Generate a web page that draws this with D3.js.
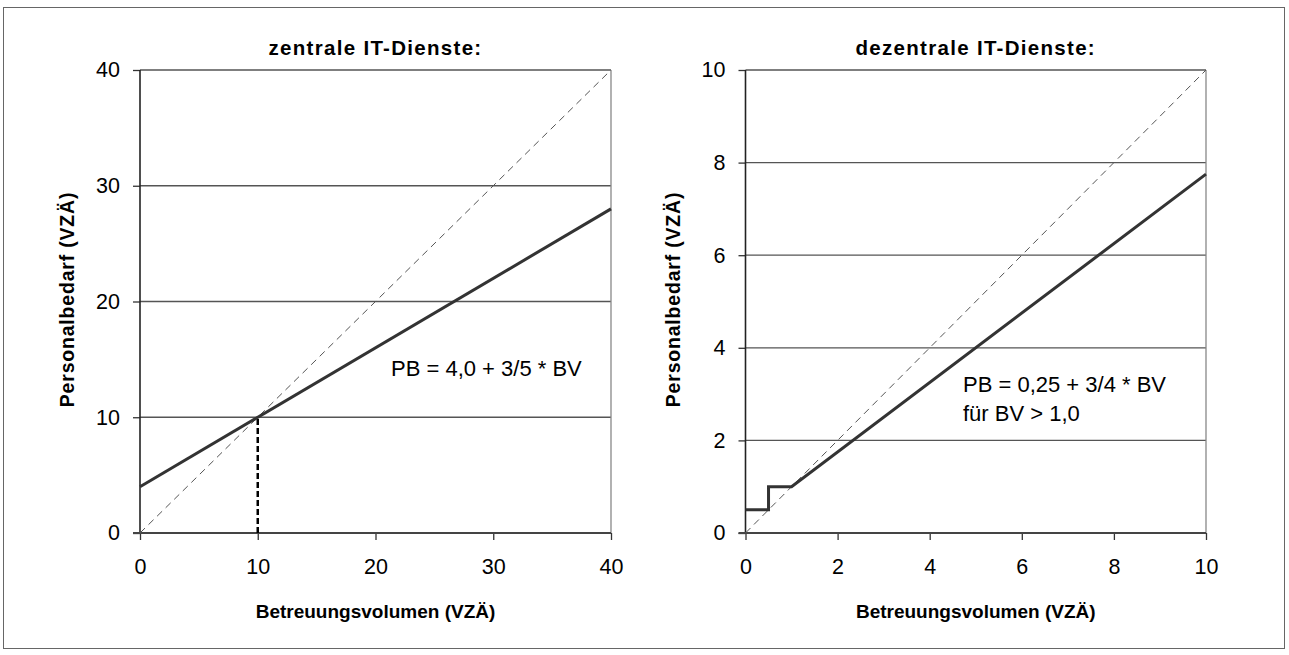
<!DOCTYPE html>
<html><head><meta charset="utf-8">
<script src="https://cdn.jsdelivr.net/npm/d3@7"></script>
<style>body{margin:0;background:#fff}svg{display:block;font-family:"Liberation Sans",Arial,sans-serif}</style>
</head><body><svg id="c" width="1289" height="655"></svg>
<script>
// Data
const leftTitle = "zentrale IT-Dienste:";
const rightTitle = "dezentrale IT-Dienste:";
const xTitle = "Betreuungsvolumen (VZÄ)";
const yTitle = "Personalbedarf (VZÄ)";
const leftTicks = [0, 10, 20, 30, 40];
const rightTicks = [0, 2, 4, 6, 8, 10];
const leftCurve = [[0, 4], [40, 28]];
const leftDiagonal = [[0, 0], [40, 40]];
const leftMarker = [[10, 0], [10, 10]];
const rightCurve = [[0, 0.5], [0.5, 0.5], [0.5, 1], [1, 1], [10, 7.75]];
const rightDiagonal = [[0, 0], [10, 10]];
const leftFormula = ["PB = 4,0 + 3/5 * BV"];
const rightFormula = ["PB = 0,25 + 3/4 * BV", "für BV > 1,0"];

const svg = d3.select("#c");
svg.append("rect").attr("x", 3.5).attr("y", 7.5).attr("width", 1281).attr("height", 641)
  .attr("fill", "none").attr("stroke", "#666").attr("stroke-width", 1);

function panel(o) {
  const x = d3.scaleLinear().domain(o.domain).range([o.x0, o.x1]);
  const y = d3.scaleLinear().domain(o.domain).range([533, 70]);
  const g = svg.append("g");
  g.selectAll("line.grid").data(o.ticks.slice(1)).join("line")
    .attr("x1", o.x0).attr("x2", o.x1).attr("y1", d => y(d)).attr("y2", d => y(d))
    .attr("stroke", "#555").attr("stroke-width", 1.3);
  g.append("line").attr("x1", o.x1).attr("x2", o.x1).attr("y1", 70).attr("y2", 533)
    .attr("stroke", "#888").attr("stroke-width", 1.3);
  const ya = d3.axisLeft(y).tickValues(o.ticks).tickSize(7).tickPadding(13);
  const ga = g.append("g").attr("transform", `translate(${o.x0},0)`).call(ya);
  const xa = d3.axisBottom(x).tickValues(o.ticks).tickSize(7).tickPadding(19);
  const gx = g.append("g").attr("transform", `translate(0,533)`).call(xa);
  [ga, gx].forEach(a => {
    a.select(".domain").remove();
    a.selectAll("line").attr("stroke", "#333").attr("stroke-width", 1.3);
    a.selectAll("text").attr("font-size", 21.5).attr("fill", "#000").attr("font-family", "Liberation Sans, Arial, sans-serif");
  });
  g.append("line").attr("x1", o.x0).attr("x2", o.x0).attr("y1", 70).attr("y2", 533).attr("stroke", "#222").attr("stroke-width", 1.6);
  g.append("line").attr("x1", o.x0 - 7).attr("x2", o.x1).attr("y1", 533).attr("y2", 533).attr("stroke", "#444").attr("stroke-width", 1.8);
  const line = d3.line().x(d => x(d[0])).y(d => y(d[1]));
  g.append("path").attr("d", line(o.diag)).attr("fill", "none").attr("stroke", "#555")
    .attr("stroke-width", 1).attr("stroke-dasharray", "7,5");
  if (o.marker) g.append("path").attr("d", line(o.marker)).attr("fill", "none").attr("stroke", "#000")
    .attr("stroke-width", 2.5).attr("stroke-dasharray", "6,3");
  g.append("path").attr("d", line(o.curve)).attr("fill", "none").attr("stroke", "#333").attr("stroke-width", 3);
  g.append("text").attr("x", (o.x0 + o.x1) / 2).attr("y", 55).attr("text-anchor", "middle")
    .attr("font-size", 20.5).attr("letter-spacing", 1.3).attr("font-weight", "bold").text(o.title);
  g.append("text").attr("x", (o.x0 + o.x1) / 2).attr("y", 618).attr("text-anchor", "middle")
    .attr("font-size", 19).attr("font-weight", "bold").text(xTitle);
  g.append("text").attr("transform", `translate(${o.x0 - 66},${(70 + 533) / 2 - 2}) rotate(-90)`)
    .attr("text-anchor", "middle").attr("font-size", 19.5).attr("letter-spacing", 0.8).attr("font-weight", "bold").text(yTitle);
  const t = g.append("text").attr("font-size", 22);
  o.formula.forEach((s, i) => t.append("tspan").attr("x", o.fx).attr("y", o.fy + i * 29).text(s));
}

panel({domain: [0, 40], ticks: leftTicks, x0: 140, x1: 611, curve: leftCurve, diag: leftDiagonal,
  marker: leftMarker, title: leftTitle, formula: leftFormula, fx: 391, fy: 376});
panel({domain: [0, 10], ticks: rightTicks, x0: 745.5, x1: 1206, curve: rightCurve, diag: rightDiagonal,
  marker: null, title: rightTitle, formula: rightFormula, fx: 963, fy: 392});
</script></body></html>
